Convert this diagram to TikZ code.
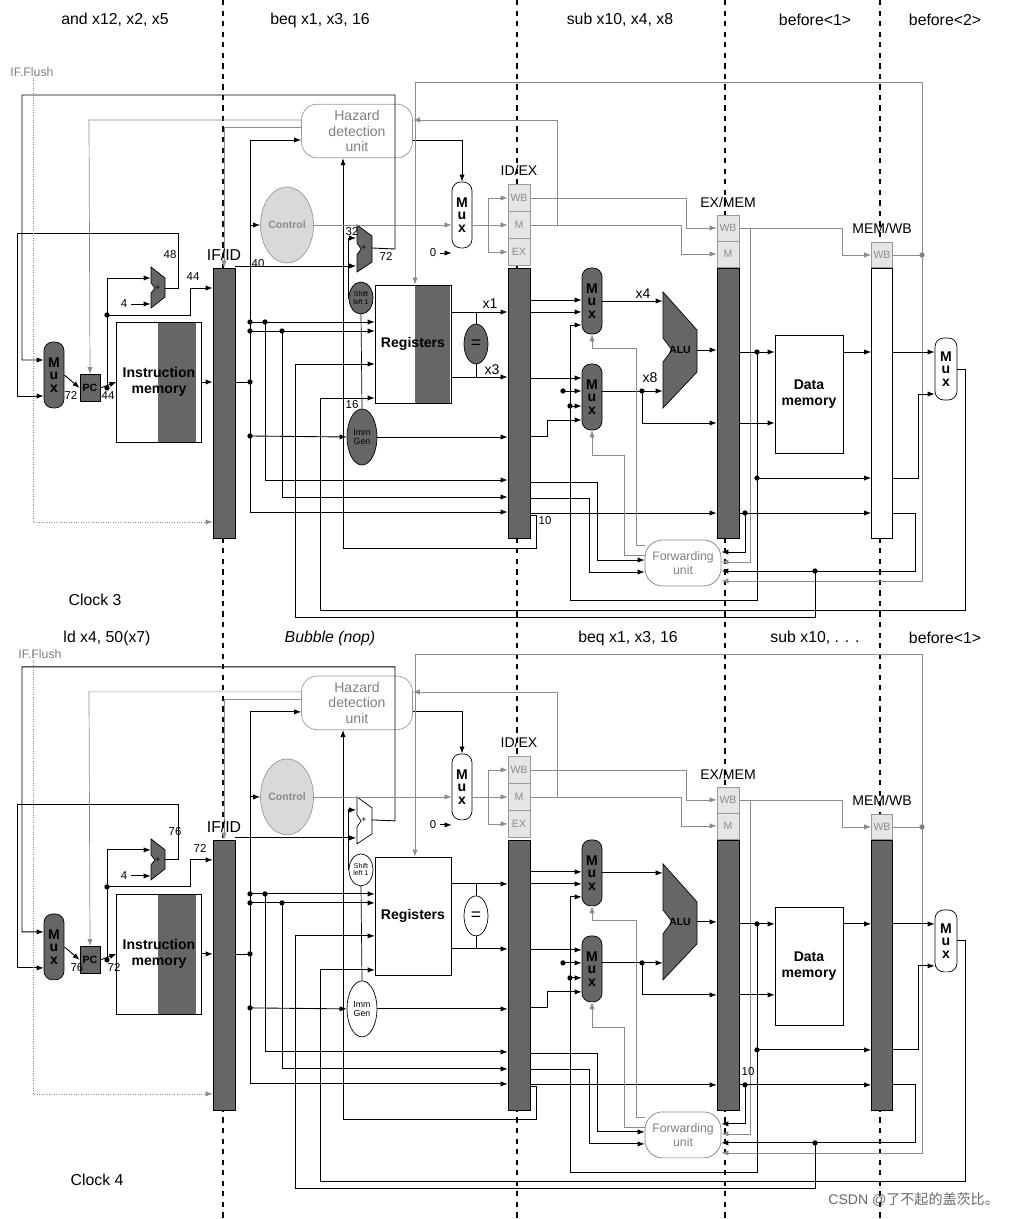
\documentclass[tikz,border=0pt]{standalone}
\usepackage{fontspec}
\setmainfont{Liberation Sans}
\newfontfamily\cjk{Noto Sans CJK SC}
\usetikzlibrary{arrows.meta, positioning, shapes.geometric}

% one clock cycle of the pipeline: #1 shift, #2 name prefix, #3 fill of ID units, #4 fill of MEM/WB
\newcommand\pipestage[4]{%
\begin{scope}[yshift=#1, name prefix=#2]
    % Pipeline registers
    \node[pipe reg, fill=black!60] (ifid) at (224,403) {};
    \node[ctl box] (idwb) at (519,198) {WB};
    \node[ctl box] (idm)  at (519,225) {M};
    \node[ctl box] (idex) at (519,252) {EX};
    \node[pipe reg, fill=black!60] (idexr) at (519,403) {};
    \node[ctl box, minimum height=0.52cm] (exwb) at (728,228) {WB};
    \node[ctl box, minimum height=0.52cm] (exm)  at (728,254) {M};
    \node[pipe reg, fill=black!60] (exmem) at (728,403) {};
    \node[ctl box, minimum width=0.42cm, minimum height=0.5cm] (mwwb) at (882,255) {WB};
    \node[pipe reg, minimum width=0.42cm, fill=#4] (memwb) at (882,403) {};

    % Fetch
    \node[mux, fill=black!60] (pcmux) at (54,375) {M\\u\\x};
    \node[draw, fill=black!60, minimum width=0.4cm, minimum height=0.54cm, inner sep=0pt,
          font=\bfseries\fontsize{6}{6}\selectfont] (pc) at (90,388) {PC};
    \fill[black!60] (158,322) rectangle (196,442);
    \node[draw, minimum width=1.48cm, minimum height=2.4cm, align=center,
          font=\bfseries\fontsize{8}{9}\selectfont] (imem) at (159,382) {Instruction\\memory};
    \draw[fill=black!60] (151,267) -- (165,278) -- (165,297) -- (151,308) -- (151,293) -- (155,288) -- (151,283) -- cycle;
    \node[inner sep=0pt, minimum width=0.28cm, minimum height=0.82cm, font=\tiny] (add4) at (158,288) {+};

    % Decode
    \node[draw=black!40, rounded corners=9pt, minimum width=2.22cm, minimum height=1.06cm, align=center,
          text=black!50, font=\fontsize{8}{9}\selectfont] (haz) at (357,131) {Hazard\\detection\\unit};
    \node[ellipse, draw=black!40, fill=black!15, minimum width=0.88cm, minimum height=1.52cm, inner sep=0pt,
          text=black!45, font=\bfseries\fontsize{6}{6}\selectfont] (ctrl) at (287,225) {Control};
    \node[mux] (hmux) at (462,215) {M\\u\\x};
    \draw[fill=#3] (357,225) -- (372,236) -- (372,262) -- (357,272) -- (357,255) -- (361,249) -- (357,243) -- cycle;
    \node[inner sep=0pt, minimum width=0.3cm, minimum height=0.94cm, font=\tiny] (badd) at (364,248) {+};
    \node[unit, fill=#3, minimum width=0.48cm, minimum height=0.64cm, font=\fontsize{4}{4}\selectfont] (shl) at (361,298) {Shift\\left 1};
    \fill[#3] (415,285) rectangle (450,403);
    \node[draw, minimum width=1.48cm, minimum height=2.36cm, font=\bfseries\fontsize{8}{9}\selectfont] (regs) at (413,344) {Registers};
    \node[unit, fill=#3, minimum width=0.48cm, minimum height=0.8cm] (eq) at (476,344) {=};
    \node[unit, fill=#3, minimum width=0.6cm, minimum height=1.12cm, font=\fontsize{5}{5}\selectfont] (imm) at (362,437) {Imm\\Gen};

    % Execute
    \node[mux, fill=black!60] (amuxa) at (592,301) {M\\u\\x};
    \node[mux, fill=black!60] (amuxb) at (592,397) {M\\u\\x};
    \draw[fill=black!60] (663,292) -- (697,330) -- (697,372) -- (663,408) -- (663,362) -- (672,350) -- (663,338) -- cycle;
    \node[inner sep=0pt, minimum width=0.68cm, minimum height=2.32cm, font=\bfseries\fontsize{6}{6}\selectfont] (alu) at (680,350) {ALU};
    \node[draw=black!50, rounded corners=10pt, minimum width=1.52cm, minimum height=0.92cm, align=center,
          text=black!50, font=\fontsize{7}{8}\selectfont] (fwd) at (683,563) {Forwarding\\unit};

    % Memory and write back
    \node[draw, minimum width=1.36cm, minimum height=2.36cm, align=center,
          font=\bfseries\fontsize{8}{9}\selectfont] (dmem) at (809,394) {Data\\memory};
    \node[mux, minimum width=0.44cm, minimum height=1.24cm] (wbmux) at (946,369) {M\\u\\x};

    % Fetch wires
    \draw[w] (pcmux.east) -- (pc.west);
    \draw[w] (pc.east) -- (imem.west);
    \draw[w] (107,388) -- (107,278) -- (add4.west |- 0,278);
    \draw[w] (107,315) -- (190,315) -- (190,288) -- (ifid.west |- 0,288);
    \draw[w] (131,304) -- (add4.west |- 0,304);
    \draw[w] (add4.east) -- (178,288) -- (178,233) -- (17,233) -- (17,396) -- (pcmux.west |- 0,396);
    \draw[w] (badd.east) -- (395,249) -- (395,95) -- (22,95) -- (22,360) -- (pcmux.west |- 0,360);
    \draw[w] (imem.east) -- (ifid.west |- imem.east);
    \draw[g] (haz.west |- 0,120) -- (89,120) -- (pc.north);
    \draw[g] (haz.west |- 0,127) -| (ifid.north);
    \draw[g, densely dotted] (33,78) -- (33,522) -- (ifid.west |- 0,522);
    \foreach \p in {(107,388),(107,315)} \fill \p circle (1.5pt);

    % Decode wires
    \draw[w] (haz.east |- 0,140) -| (hmux.north);
    \draw (ifid.east |- 0,382) -- (250,382);
    \draw[w] (250,512) -- (250,140) -- (haz.west |- 0,140);
    \draw[w] (250,225) -- (ctrl.west);
    \draw[w] (ifid.east |- 0,266) -- (badd.west |- 0,266);
    \draw[w] (250,322) -- (regs.west |- 0,322);
    \draw[w] (250,331) -- (regs.west |- 0,331);
    \draw[w] (265,322) -- (265,480) -- (idexr.west |- 0,480);
    \draw[w] (282,331) -- (282,497) -- (idexr.west |- 0,497);
    \draw[w] (250,512) -- (idexr.west |- 0,512);
    \draw[w] (250,436) -- (imm.west);
    \draw (imm.north) -- (shl.south);
    \draw[w] (shl.west) -- (348,298) -- (348,238) -- (badd.west |- 0,238);
    \draw[w] (imm.east) -- (idexr.west |- imm.east);
    \draw[w] (regs.east |- 0,312) -- (idexr.west |- 0,312);
    \draw[w] (regs.east |- 0,377) -- (idexr.west |- 0,377);
    \draw (eq.north) -- (476,312);
    \draw (eq.south) -- (476,377);
    \draw[w] (idexr.east |- 0,515) -- (536,515) -- (536,548) -- (343,548) -- (haz.south -| 343,0);
    \draw[g] (ctrl.east) -- (hmux.west |- ctrl.east);
    \draw[w] (440,253) -- (hmux.west |- 0,253);
    \draw[g, -] (hmux.east |- 0,225) -- (488,225);
    \draw[g, -] (488,198) -- (488,252);
    \foreach \b in {idwb,idm,idex}
        \draw[g] (\b.west -| 488,0) -- (\b.west);
    \foreach \p in {(250,382),(250,322),(250,331),(265,322),(282,331),(250,436)} \fill \p circle (1.5pt);

    % Control signals
    \draw[g] (idwb.east) -- (686,198) |- (exwb.west);
    \draw[g] (idm.east) -- (681,225) |- (exm.west);
    \draw[g] (557,225) -- (557,120) -- (haz.east |- 0,120);
    \draw[g] (exwb.east) -- (842,228) |- (mwwb.west);
    \draw[g] (750,228) -- (750,562) -- (fwd.east |- 0,562);
    \draw[g, -] (mwwb.east) -- (922,255);
    \draw[g] (922,255) -- (922,82) -- (415,82) -- (regs.north -| 415,0);
    \draw[g] (922,255) -- (922,581) -- (fwd.east |- 0,581);
    \fill[black!50] (922,255) circle (1.5pt);

    % Execute wires
    \draw[w] (idexr.east |- 0,300) -- (amuxa.west |- 0,300);
    \draw[w] (idexr.east |- 0,312) -- (amuxa.west |- 0,312);
    \draw[w] (idexr.east |- 0,378) -- (amuxb.west |- 0,378);
    \draw[w] (idexr.east |- 0,436) -- (547,436) -- (547,420) -- (amuxb.west |- 0,420);
    \draw[w] (563,391) -- (amuxb.west |- 0,391);
    \draw[w] (570,600) -- (570,325) -- (amuxa.west |- 0,325);
    \draw[w] (570,406) -- (amuxb.west |- 0,406);
    \draw (570,600) -- (757,600) -- (757,352);
    \draw[w] (amuxa.east) -- (alu.west |- amuxa.east);
    \draw[w] (amuxb.east |- 0,391) -- (alu.west |- 0,391);
    \draw[w] (642,391) -- (642,423) -- (exmem.west |- 0,423);
    \draw[w] (alu.east) -- (exmem.west |- alu.east);
    \draw[w] (idexr.east |- 0,482) -- (597,482) -- (597,560) -- (fwd.west |- 0,560);
    \draw[w] (idexr.east |- 0,498) -- (589,498) -- (589,572) -- (fwd.west |- 0,572);
    \draw[w] (idexr.east |- 0,513) -- (exmem.west |- 0,513);
    \draw[g] (fwd.west |- 0,545) -- (636,545) -- (636,348) -| (amuxa.south);
    \draw[g] (fwd.west |- 0,555) -- (624,555) -- (624,455) -| (amuxb.south);
    \foreach \p in {(563,391),(570,406),(642,391)} \fill \p circle (1.5pt);

    % Memory and write back wires
    \draw[w] (exmem.east |- 0,352) -- (dmem.west |- 0,352);
    \draw[w] (exmem.east |- 0,423) -- (dmem.west |- 0,423);
    \draw[w] (757,478) -- (memwb.west |- 0,478);
    \draw[w] (dmem.east |- 0,352) -- (memwb.west |- 0,352);
    \draw[w] (memwb.east |- 0,352) -- (wbmux.west |- 0,352);
    \draw[w] (memwb.east |- 0,478) -- (918,478) -- (918,394) -- (wbmux.west |- 0,394);
    \draw[w] (exmem.east |- 0,513) -- (memwb.west |- 0,513);
    \draw[w] (745,513) -- (745,552) -- (fwd.east |- 0,552);
    \draw[w] (memwb.east |- 0,513) -- (915,513) -- (915,571) -- (fwd.east |- 0,571);
    \draw[w] (815,571) -- (815,617) -- (295,617) -- (295,364) -- (regs.west |- 0,364);
    \draw[w] (wbmux.east) -- (965,369) -- (965,610) -- (320,610) -- (320,398) -- (regs.west |- 0,398);
    \foreach \p in {(757,352),(757,478),(745,513),(815,571)} \fill \p circle (1.5pt);
\end{scope}}

\begin{document}
\begin{tikzpicture}[x=0.02cm, y=-0.02cm, >={Latex[length=4pt,width=3pt]}]
    \tikzstyle{w}=[->, black, line width=0.5pt]
    \tikzstyle{g}=[->, black!45, line width=0.4pt]
    \tikzstyle{pipe reg}=[draw, minimum width=0.44cm, minimum height=5.4cm, inner sep=0pt]
    \tikzstyle{ctl box}=[draw=black!40, fill=black!10, text=black!45, minimum width=0.44cm,
        minimum height=0.54cm, inner sep=0pt, font=\fontsize{6}{6}\selectfont]
    \tikzstyle{mux}=[draw, fill=white, rounded corners=5pt, minimum width=0.4cm, minimum height=1.32cm,
        inner sep=0pt, align=center, font=\bfseries\fontsize{8}{7}\selectfont]
    \tikzstyle{unit}=[ellipse, draw, inner sep=0pt, align=center]
    \tikzstyle{lbl}=[font=\fontsize{9}{10}\selectfont]
    \tikzstyle{num}=[font=\fontsize{6.5}{7}\selectfont, inner sep=1pt]

    \useasboundingbox (0,0) rectangle (1010,1219);

    % Stage boundaries
    \foreach \x in {223,517,725,880}
        \draw[dashed, line width=0.6pt] (\x,0) -- (\x,1219);

    \pipestage{0cm}{t-}{black!60}{white}
    \pipestage{-11.44cm}{b-}{white}{black!60}

    % Clock 3 labels
    \node[lbl] at (115,20) {and x12, x2, x5};
    \node[lbl] at (320,20) {beq x1, x3, 16};
    \node[lbl] at (620,20) {sub x10, x4, x8};
    \node[lbl] at (815,20) {before<1>};
    \node[lbl] at (945,20) {before<2>};
    \node[num, text=black!50, font=\fontsize{7}{8}\selectfont] at (32,72) {IF.Flush};
    \node[lbl] at (224,255) {IF/ID};
    \node[lbl, font=\fontsize{8}{9}\selectfont] at (519,170) {ID/EX};
    \node[lbl, font=\fontsize{8}{9}\selectfont] at (728,202) {EX/MEM};
    \node[lbl, font=\fontsize{8}{9}\selectfont] at (882,228) {MEM/WB};
    \node[num] at (170,255) {48};
    \node[num] at (193,277) {44};
    \node[num] at (71,396) {72};
    \node[num] at (108,396) {44};
    \node[num] at (124,304) {4};
    \node[num] at (258,264) {40};
    \node[num] at (352,232) {32};
    \node[num] at (386,257) {72};
    \node[num] at (352,405) {16};
    \node[num] at (433,253) {0};
    \node[num] at (545,521) {10};
    \node[num, font=\fontsize{8}{9}\selectfont] at (490,304) {x1};
    \node[num, font=\fontsize{8}{9}\selectfont] at (492,370) {x3};
    \node[num, font=\fontsize{8}{9}\selectfont] at (643,294) {x4};
    \node[num, font=\fontsize{8}{9}\selectfont] at (650,378) {x8};
    \node[lbl] at (95,600) {Clock 3};

    % Clock 4 labels
    \node[lbl] at (107,638) {ld x4, 50(x7)};
    \node[lbl, font=\itshape\fontsize{9}{10}\selectfont] at (330,638) {Bubble (nop)};
    \node[lbl] at (628,638) {beq x1, x3, 16};
    \node[lbl] at (815,638) {sub x10, . . .};
    \node[lbl] at (945,638) {before<1>};
    \node[num, text=black!50, font=\fontsize{7}{8}\selectfont] at (40,654) {IF.Flush};
    \node[lbl] at (224,827) {IF/ID};
    \node[lbl, font=\fontsize{8}{9}\selectfont] at (519,742) {ID/EX};
    \node[lbl, font=\fontsize{8}{9}\selectfont] at (728,774) {EX/MEM};
    \node[lbl, font=\fontsize{8}{9}\selectfont] at (882,800) {MEM/WB};
    \node[num] at (175,832) {76};
    \node[num] at (200,849) {72};
    \node[num] at (77,968) {76};
    \node[num] at (114,968) {72};
    \node[num] at (124,876) {4};
    \node[num] at (433,825) {0};
    \node[num] at (748,1072) {10};
    \node[lbl] at (97,1180) {Clock 4};

    \node[text=black!60, font=\fontsize{8}{9}\selectfont, anchor=east] at (1005,1200) {CSDN @{\cjk 了不起的盖茨比。}};
\end{tikzpicture}
\end{document}
